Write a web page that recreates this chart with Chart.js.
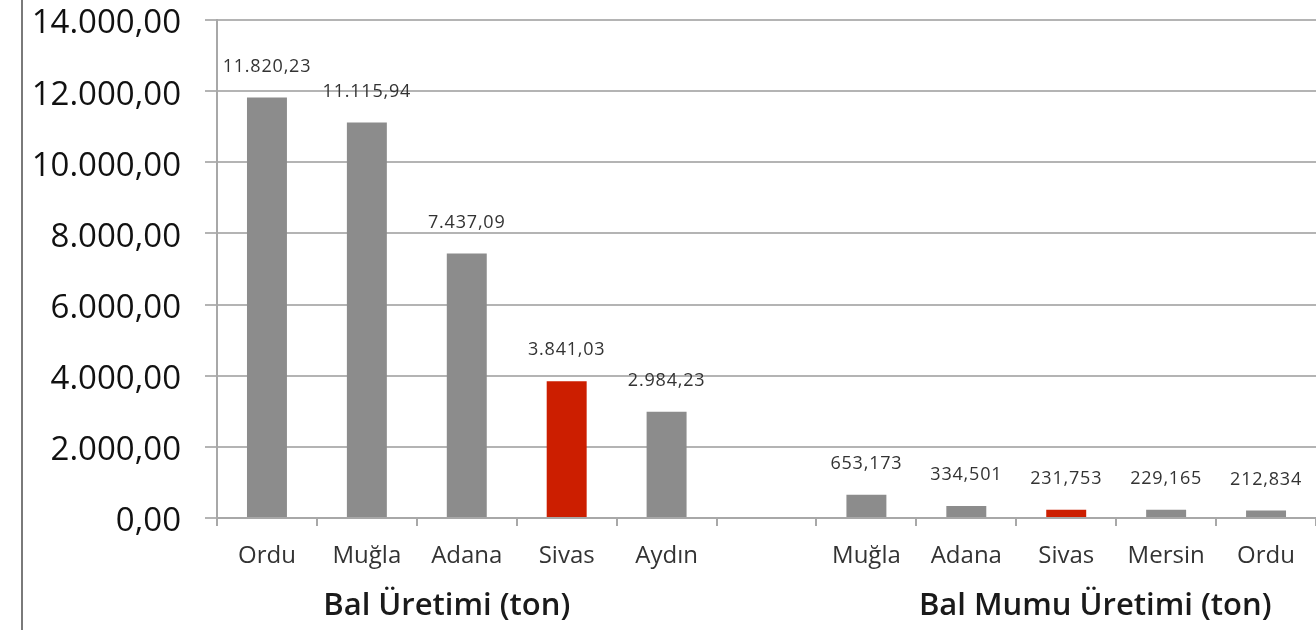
<!doctype html>
<html lang="tr">
<head>
  <meta charset="utf-8">
  <title>Bal ve Bal Mumu Üretimi</title>
  <script src="https://cdn.jsdelivr.net/npm/chart.js"></script>
  <style>
    html, body { margin: 0; padding: 0; background: #fff; }
    #wrap { position: relative; width: 1316px; height: 630px; }
    #wrap::before { content: ""; position: absolute; left: 21px; top: 0; bottom: 0; border-left: 2px solid #7a7a7a; }
  </style>
</head>
<body>
  <div id="wrap"><canvas id="canvas_bal" width="1316" height="630"></canvas></div>

  <script type="text/javascript">

    // categories (empty slot separates the two groups)
    const categories = ['Ordu', 'Muğla', 'Adana', 'Sivas', 'Aydın', '', 'Muğla', 'Adana', 'Sivas', 'Mersin', 'Ordu'];

    // Bal Üretimi (ton)
    const bal_values = [11820.23, 11115.94, 7437.09, 3841.03, 2984.23];

    // Bal Mumu Üretimi (ton)
    const mumu_values = [653.173, 334.501, 231.753, 229.165, 212.834];

    const group_titles = ['Bal Üretimi (ton)', 'Bal Mumu Üretimi (ton)'];
    const group_ranges = [[0, 4], [6, 10]];

    const y_ticks = [0, 2000, 4000, 6000, 8000, 10000, 12000, 14000];

    const highlight = 'Sivas';

    const values = bal_values.concat([null], mumu_values);
    const decimals = categories.map((c, i) => i < 5 ? 2 : 3);

    function format_tr(v, d) {
      const parts = v.toFixed(d).split('.');
      parts[0] = parts[0].replace(/\B(?=(\d{3})+(?!\d))/g, '.');
      return parts.join(',');
    }

    const value_labels = {
      id: 'value_labels',
      afterDatasetsDraw(chart) {
        const ctx = chart.ctx;
        const meta = chart.getDatasetMeta(0);
        ctx.save();
        ctx.font = '18px "Open Sans"';
        ctx.letterSpacing = '0.8px';
        ctx.fillStyle = '#333';
        ctx.textAlign = 'center';
        ctx.textBaseline = 'middle';
        meta.data.forEach((bar, i) => {
          if (values[i] == null) return;
          ctx.fillText(format_tr(values[i], decimals[i]), bar.x, bar.y - 31);
        });
        ctx.restore();
      }
    };

    const group_labels = {
      id: 'group_labels',
      afterDraw(chart) {
        const ctx = chart.ctx;
        const x = chart.scales.x;
        ctx.save();
        ctx.font = '600 31px "Open Sans"';
        ctx.fillStyle = '#1a1a1a';
        ctx.textAlign = 'center';
        ctx.textBaseline = 'middle';
        group_titles.forEach((t, g) => {
          const cx = (x.getPixelForValue(group_ranges[g][0]) + x.getPixelForValue(group_ranges[g][1])) / 2;
          ctx.fillText(t, cx + (g === 1 ? 29 : -20), 606);
        });
        ctx.restore();
      }
    };

    new Chart(document.getElementById('canvas_bal'), {
      type: 'bar',
      data: {
        labels: categories,
        datasets: [{
          data: values,
          backgroundColor: categories.map(c => c === highlight ? '#cc1e00' : '#8c8c8c'),
          barPercentage: 0.4,
          categoryPercentage: 1
        }]
      },
      options: {
        responsive: false,
        animation: false,
        layout: { padding: { top: 20, right: 0, left: 0, bottom: 0 } },
        plugins: { legend: { display: false }, tooltip: { enabled: false } },
        scales: {
          x: {
            offset: true,
            afterFit: (s) => { s.height = 112; s.paddingLeft = 0; s.paddingRight = 0; },
            border: { color: '#a8a8a8', width: 2 },
            grid: { offset: true, drawOnChartArea: false, tickLength: 8, color: '#a8a8a8', lineWidth: 2 },
            ticks: { color: '#333', padding: 16, font: { family: 'Open Sans', size: 24 } }
          },
          y: {
            min: 0,
            max: 14000,
            afterFit: (s) => { s.width = 217; s.paddingTop = 0; s.paddingBottom = 0; },
            afterBuildTicks: (s) => { s.ticks = y_ticks.map(v => ({ value: v })); },
            border: { color: '#a8a8a8', width: 2 },
            grid: { color: '#b4b4b4', lineWidth: 2, tickLength: 12 },
            ticks: {
              color: '#111',
              padding: 24,
              labelOffset: 4,
              font: { family: 'Open Sans', size: 33 },
              callback: (v) => format_tr(v, 2)
            }
          }
        }
      },
      plugins: [value_labels, group_labels]
    });

  </script>
</body>
</html>
